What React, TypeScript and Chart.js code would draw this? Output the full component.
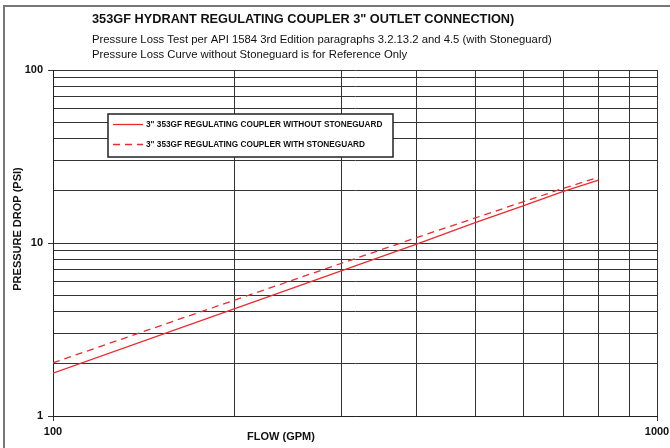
import React, { useEffect, useRef } from "react";
import { Chart, registerables } from "chart.js";

Chart.register(...registerables);

const flowGpm = [100, 200, 300, 400, 500, 600, 700, 800];
const withoutStoneguard = [1.77, 4.17, 6.9, 9.85, 13.1, 16.4, 19.9, 23.1];
const withStoneguard = [2.03, 4.68, 7.62, 10.75, 13.95, 17.3, 20.7, 24.0];

const xTickValues = [100, 200, 300, 400, 500, 600, 700, 800, 900, 1000];
const yTickValues = [1, 2, 3, 4, 5, 6, 7, 8, 9, 10, 20, 30, 40, 50, 60, 70, 80, 90, 100];
const xLabelValues = [100, 1000];
const yLabelValues = [1, 10, 100];

const seriesLabels = [
  '3" 353GF REGULATING COUPLER WITHOUT STONEGUARD',
  '3" 353GF REGULATING COUPLER WITH STONEGUARD',
];

const titleText = '353GF HYDRANT REGULATING COUPLER 3" OUTLET CONNECTION)';
const subtitle1 = "Pressure Loss Test per API 1584 3rd Edition paragraphs 3.2.13.2 and 4.5 (with Stoneguard)";
const subtitle2 = "Pressure Loss Curve without Stoneguard is for Reference Only";
const xTitle = "FLOW (GPM)";
const yTitle = "PRESSURE DROP (PSI)";

const FONT = '"Liberation Sans", Arial, Helvetica, sans-serif';
const RED = "#ee2a2f";
const GRID = "#333";

const decorPlugin = {
  id: "decor",
  beforeDraw(chart: any) {
    const ctx = chart.ctx;
    ctx.save();
    ctx.fillStyle = "#fff";
    ctx.fillRect(0, 0, chart.width, chart.height);
    ctx.fillStyle = "#777";
    ctx.fillRect(3, 5, 2, chart.height - 5);
    ctx.fillRect(3, 5, chart.width - 3, 2);
    ctx.restore();
  },
  afterDraw(chart: any) {
    const ctx = chart.ctx;
    ctx.save();
    ctx.fillStyle = "#111";
    ctx.textBaseline = "alphabetic";
    ctx.textAlign = "left";
    ctx.font = `bold 12.75px ${FONT}`;
    ctx.fillText(titleText, 92, 23);
    ctx.font = `11.3px ${FONT}`;
    ctx.fillText(subtitle1, 92, 43);
    ctx.fillText(subtitle2, 92, 58);

    // axis titles
    ctx.font = `bold 11px ${FONT}`;
    ctx.textAlign = "center";
    ctx.textBaseline = "middle";
    ctx.fillText(xTitle, 281, 437);
    ctx.save();
    ctx.translate(18, 229);
    ctx.rotate(-Math.PI / 2);
    ctx.fillText(yTitle, 0, 0);
    ctx.restore();

    // legend
    const bx = 108, by = 114, bw = 285, bh = 43;
    ctx.fillStyle = "#fff";
    ctx.fillRect(bx, by, bw, bh);
    ctx.strokeStyle = "#222";
    ctx.lineWidth = 1.5;
    ctx.strokeRect(bx, by, bw, bh);
    const rows = [124.5, 144.5];
    chart.data.datasets.forEach((ds: any, i: number) => {
      ctx.beginPath();
      ctx.strokeStyle = ds.borderColor;
      ctx.lineWidth = 1.3;
      ctx.setLineDash(ds.borderDash || []);
      ctx.moveTo(113, rows[i]);
      ctx.lineTo(143, rows[i]);
      ctx.stroke();
      ctx.setLineDash([]);
      ctx.fillStyle = "#111";
      ctx.font = `bold 8.25px ${FONT}`;
      ctx.textAlign = "left";
      ctx.textBaseline = "middle";
      ctx.fillText(ds.label, 146, rows[i]);
    });
    ctx.restore();
  },
};

export default function App() {
  const ref = useRef<HTMLCanvasElement>(null);
  useEffect(() => {
    document.body.style.margin = "0";
    const chart = new Chart(ref.current!, {
      type: "line",
      data: {
        datasets: [
          {
            label: seriesLabels[0],
            data: flowGpm.map((x, i) => ({ x, y: withoutStoneguard[i] })),
            borderColor: RED,
            borderWidth: 1.3,
            pointRadius: 0,
            tension: 0,
          },
          {
            label: seriesLabels[1],
            data: flowGpm.map((x, i) => ({ x, y: withStoneguard[i] })),
            borderColor: RED,
            borderWidth: 1.3,
            borderDash: [7, 5],
            pointRadius: 0,
            tension: 0,
          },
        ],
      },
      options: {
        animation: false,
        responsive: false,
        devicePixelRatio: 1,
        layout: { padding: { top: 70, left: 8, right: 13, bottom: 0 } },
        plugins: { legend: { display: false }, tooltip: { enabled: false }, title: { display: false } },
        scales: {
          x: {
            type: "logarithmic",
            min: 100,
            max: 1000,
            afterBuildTicks: (s: any) => {
              s.ticks = xTickValues.map((v) => ({ value: v, major: xLabelValues.includes(v) }));
            },
            afterFit: (s: any) => {
              s.height = 32;
              s.paddingLeft = 0;
              s.paddingRight = 0;
            },
            ticks: {
              autoSkip: false,
              maxRotation: 0,
              padding: 4,
              color: "#111",
              font: { family: FONT, size: 11, weight: "bold" },
              callback: (v: any) => (xLabelValues.includes(Number(v)) ? String(v) : ""),
            },
            grid: {
              color: GRID,
              lineWidth: 1,
              tickLength: 5,
              tickColor: (c: any) => (c.tick && xLabelValues.includes(c.tick.value) ? GRID : "rgba(0,0,0,0)"),
            },
            border: { color: "#222", width: 1 },
          },
          y: {
            type: "logarithmic",
            min: 1,
            max: 100,
            afterBuildTicks: (s: any) => {
              s.ticks = yTickValues.map((v) => ({ value: v, major: yLabelValues.includes(v) }));
            },
            afterFit: (s: any) => {
              s.width = 45;
              s.paddingTop = 0;
              s.paddingBottom = 0;
            },
            ticks: {
              autoSkip: false,
              padding: 5,
              color: "#111",
              font: { family: FONT, size: 11, weight: "bold" },
              callback: (v: any) => (yLabelValues.includes(Number(v)) ? String(v) : ""),
            },
            grid: {
              color: GRID,
              lineWidth: 1,
              tickLength: 5,
              tickColor: (c: any) => (c.tick && yLabelValues.includes(c.tick.value) ? GRID : "rgba(0,0,0,0)"),
            },
            border: { color: "#222", width: 1 },
          },
        },
      },
      plugins: [decorPlugin],
    });
    return () => chart.destroy();
  }, []);
  return (
    <div style={{ width: 670, height: 448 }}>
      <canvas ref={ref} width={670} height={448} style={{ display: "block" }} />
    </div>
  );
}
